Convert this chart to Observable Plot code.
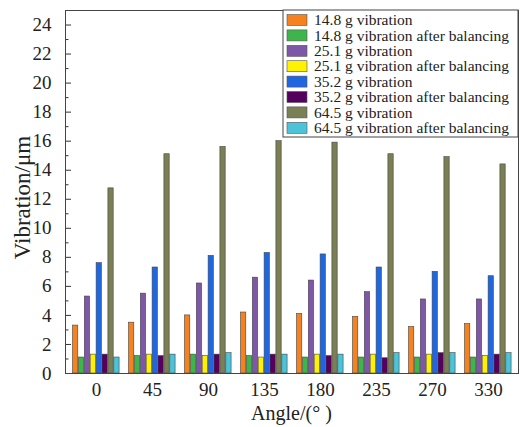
<!DOCTYPE html>
<html>
<head>
<meta charset="utf-8">
<script src="https://cdn.jsdelivr.net/npm/d3@7"></script>
<script src="https://cdn.jsdelivr.net/npm/@observablehq/plot@0.6"></script>
<style>
  html, body { margin: 0; padding: 0; background: #fff; }
  #chart { width: 520px; height: 427px; }
  #chart svg text { font-family: "Liberation Serif", "DejaVu Serif", "Times New Roman", Times, serif !important; }
</style>
</head>
<body>
<div id="chart"></div>
<script>
const angles = ["0", "45", "90", "135", "180", "235", "270", "330"];
const seriesNames = [
  "14.8 g vibration",
  "14.8 g vibration after balancing",
  "25.1 g vibration",
  "25.1 g vibration after balancing",
  "35.2 g vibration",
  "35.2 g vibration after balancing",
  "64.5 g vibration",
  "64.5 g vibration after balancing"
];
const seriesColors = ["#F5821F", "#3DB54A", "#7E57A8", "#FFF200", "#1F66E0", "#55005E", "#7A7F55", "#4CC3D9"];
const v148  = [3.3, 3.5, 4.0, 4.2, 4.1, 3.9, 3.2, 3.4];
const v148b = [1.1, 1.2, 1.3, 1.2, 1.1, 1.1, 1.1, 1.1];
const v251  = [5.3, 5.5, 6.2, 6.6, 6.4, 5.6, 5.1, 5.1];
const v251b = [1.3, 1.3, 1.2, 1.1, 1.3, 1.3, 1.3, 1.2];
const v352  = [7.6, 7.3, 8.1, 8.3, 8.2, 7.3, 7.0, 6.7];
const v352b = [1.3, 1.2, 1.3, 1.3, 1.2, 1.05, 1.4, 1.3];
const v645  = [12.75, 15.1, 15.6, 16.0, 15.9, 15.1, 14.9, 14.4];
const v645b = [1.1, 1.3, 1.4, 1.3, 1.3, 1.4, 1.4, 1.4];
const seriesValues = [v148, v148b, v251, v251b, v352, v352b, v645, v645b];
const yMajorTicks = d3.range(0, 25, 2);
const yMinorTicks = d3.range(1, 25, 2);

const W = 520, H = 427;
const mL = 65, mR = 2, mT = 10, mB = 54;
const plotW = W - mL - mR;
const band = plotW / angles.length;
const groupOffset = 4.5;
const barW = 5.9;

const font = "'Liberation Serif', 'DejaVu Serif', 'Times New Roman', serif";

const barMarks = seriesValues.map((vals, i) => {
  const data = angles.map((a, j) => ({angle: a, value: vals[j]}));
  return Plot.barY(data, {
    x: "angle",
    y: "value",
    fill: seriesColors[i],
    stroke: "#444",
    strokeWidth: 0.6,
    insetLeft: groupOffset + i * barW,
    insetRight: band - groupOffset - (i + 1) * barW
  });
});

const chart = Plot.plot({
  width: W,
  height: H,
  marginLeft: mL,
  marginRight: mR,
  marginTop: mT,
  marginBottom: mB,
  style: {fontFamily: font, background: "#fff", color: "#222"},
  x: {type: "band", domain: angles, padding: 0, label: null},
  y: {domain: [0, 25], label: null},
  marks: [
    ...barMarks,
    Plot.tickY(yMajorTicks, {y: d => d, stroke: "#333", strokeWidth: 1, insetRight: plotW - 6}),
    Plot.tickY(yMinorTicks, {y: d => d, stroke: "#333", strokeWidth: 1, insetRight: plotW - 3.5}),
    Plot.axisY(yMajorTicks, {tickSize: 0, tickPadding: 14, fontSize: 19, fill: "#222"}),
    Plot.axisX({tickSize: 0, tickPadding: 9, fontSize: 19, fill: "#222"}),
    Plot.frame({stroke: "#444", strokeWidth: 1})
  ]
});

const svg = d3.select(chart);
// axis titles
svg.append("text")
  .attr("x", mL + plotW / 2).attr("y", 420)
  .attr("text-anchor", "middle")
  .attr("font-size", 20).attr("fill", "#222")
  .text("Angle/(° )");
svg.append("text")
  .attr("transform", `translate(30, ${mT + (H - mT - mB) / 2 + 6}) rotate(-90)`)
  .attr("text-anchor", "middle")
  .attr("font-size", 23).attr("fill", "#222")
  .text("Vibration/μm");

// legend
const lg = svg.append("g");
const lx = 283, ly = mT, lw = W - mR - lx, lh = 127;
lg.append("rect").attr("x", lx).attr("y", ly).attr("width", lw).attr("height", lh)
  .attr("fill", "#fff").attr("stroke", "#444").attr("stroke-width", 1);
seriesNames.forEach((name, i) => {
  const cy = 20 + i * 15.4;
  lg.append("rect").attr("x", 287).attr("y", cy - 5.5).attr("width", 20).attr("height", 11)
    .attr("fill", seriesColors[i]).attr("stroke", "#555").attr("stroke-width", 0.6);
  lg.append("text").attr("x", 314).attr("y", cy + 5.2)
    .attr("text-anchor", "start")
    .attr("font-size", 15.5).attr("fill", "#222")
    .text(name);
});

document.getElementById("chart").appendChild(chart);
</script>
</body>
</html>
